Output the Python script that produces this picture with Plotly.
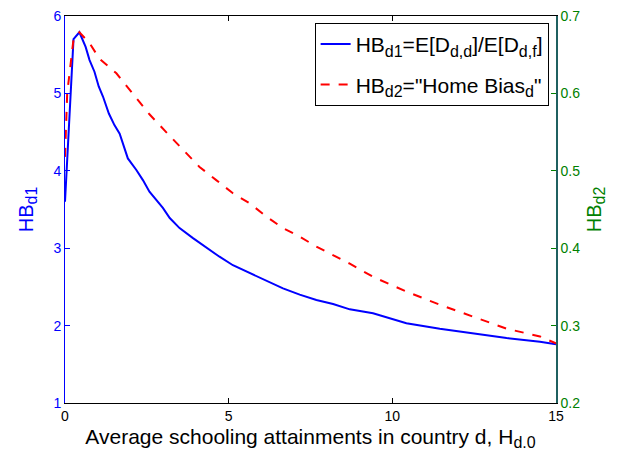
import plotly.graph_objects as go

# Data
x_hb1 = [0, 0.26, 0.44, 0.63, 0.75, 0.90, 1.03, 1.16, 1.34, 1.51, 1.67, 1.92, 2.18,
         2.38, 2.58, 2.79, 2.99, 3.20, 3.50, 3.91, 4.27, 4.72, 5.13, 5.64, 6.15,
         6.66, 7.17, 7.68, 8.19, 8.70, 9.41, 10.43, 11.45, 12.47, 13.49, 14.51, 15]
hb1 = [3.6, 5.70, 5.79, 5.60, 5.43, 5.28, 5.09, 4.96, 4.74, 4.59, 4.48, 4.16, 4.01,
       3.88, 3.73, 3.62, 3.52, 3.39, 3.26, 3.13, 3.02, 2.89, 2.78, 2.68, 2.57,
       2.48, 2.40, 2.33, 2.28, 2.21, 2.16, 2.03, 1.96, 1.90, 1.84, 1.79, 1.76]

x_hb2 = [0, 0.067, 0.26, 0.44, 0.75, 1.05, 1.57, 2.07, 2.58, 3.09, 3.60, 4.11, 4.62,
         5.13, 5.64, 6.15, 6.66, 7.17, 7.68, 8.19, 8.70, 9.41, 10.43, 11.45, 12.47,
         13.49, 14.51, 15]
hb2 = [0.518, 0.600, 0.670, 0.679, 0.665, 0.645, 0.626, 0.600, 0.573, 0.550, 0.527,
       0.505, 0.488, 0.471, 0.458, 0.441, 0.426, 0.415, 0.402, 0.391, 0.380, 0.363,
       0.344, 0.327, 0.312, 0.296, 0.286, 0.277]

x_ticks = [0, 5, 10, 15]
y1_ticks = [1, 2, 3, 4, 5, 6]
y2_ticks = [0.2, 0.3, 0.4, 0.5, 0.6, 0.7]

FONT = "Arial, Liberation Sans, sans-serif"
BLUE = "#0000ff"
GREEN = "#008000"


def sub(t, size):
    return '<sub><span style="font-size:%dpx">%s</span></sub>' % (size, t)


fig = go.Figure()
fig.add_trace(go.Scatter(
    x=x_hb1, y=hb1, mode="lines", yaxis="y", legendgroup="a",
    line=dict(color=BLUE, width=2),
    name="HB" + sub("d1", 16) + "=E[D" + sub("d,d", 16) + "]/E[D" + sub("d,f", 16) + "]"))
fig.add_trace(go.Scatter(
    x=x_hb2, y=hb2, mode="lines", yaxis="y2", legendgroup="b",
    line=dict(color="#ff0000", width=2, dash="dash"),
    name="HB" + sub("d2", 16) + "=\"Home Bias" + sub("d", 16) + "\""))

fig.update_layout(
    width=627, height=461,
    margin=dict(l=65, r=71, t=16, b=58, autoexpand=False),
    paper_bgcolor="white", plot_bgcolor="white",
    font=dict(family=FONT, size=14, color="black"),
    showlegend=True,
    legend=dict(x=0.985, y=0.982, xanchor="right", yanchor="top",
                bgcolor="white", bordercolor="black", borderwidth=1,
                font=dict(size=21, family=FONT), traceorder="grouped",
                tracegroupgap=10),
    xaxis=dict(range=[0, 15], tickvals=x_ticks, ticks="inside", ticklen=5,
               tickcolor="black", showline=True, linecolor="black", linewidth=1,
               mirror="ticks", showgrid=False, zeroline=False, automargin=False,
               tickfont=dict(size=14, color="black"),
               title=dict(text="Average schooling attainments in country d, H" + sub("d.0", 16),
                          font=dict(size=21, color="black"), standoff=6)),
    yaxis=dict(range=[1, 6], tickvals=y1_ticks, ticks="inside", ticklen=5,
               tickcolor=BLUE, showline=True, linecolor=BLUE, linewidth=1,
               showgrid=False, zeroline=False, automargin=False,
               tickfont=dict(size=14, color=BLUE), ticklabelstandoff=0,
               title=dict(text="HB" + sub("d1", 16), font=dict(size=20, color=BLUE),
                          standoff=14)),
    yaxis2=dict(range=[0.2, 0.7], tickvals=y2_ticks, overlaying="y", side="right",
                ticks="inside", ticklen=5, tickcolor=GREEN, showline=True,
                linecolor="#1f6060", linewidth=1.5, showgrid=False, zeroline=False,
                tickformat=".1f", ticklabelstandoff=0, automargin=False,
                tickfont=dict(size=14, color=GREEN),
                title=dict(text="HB" + sub("d2", 16), font=dict(size=20, color=GREEN),
                           standoff=8)),
)

fig.write_html("out.html", config={"displayModeBar": False},
               post_script="document.body.style.margin='0px';")
